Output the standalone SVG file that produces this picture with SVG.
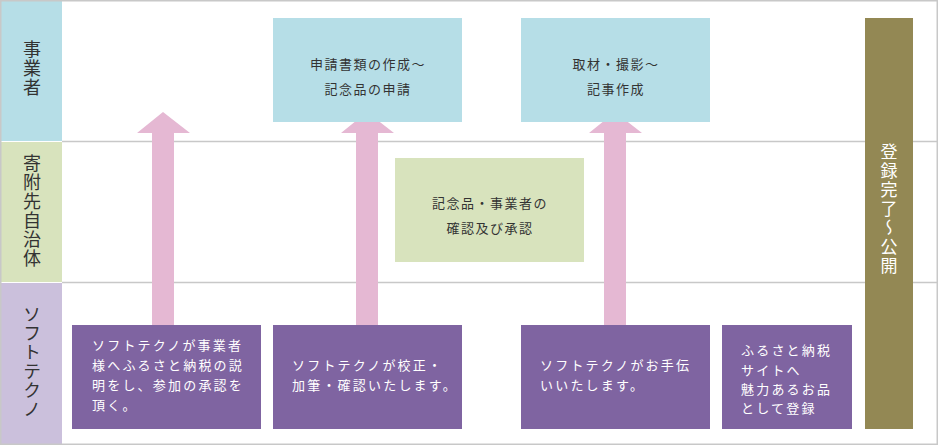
<svg xmlns="http://www.w3.org/2000/svg" width="938" height="445" viewBox="0 0 938 445">
<style>
text{font-family:"Noto Sans CJK JP","Noto Sans",sans-serif;}
.lane{font-size:18px;fill:#333;text-anchor:middle;writing-mode:vertical-rl;letter-spacing:1px;}
.dk{font-size:13px;fill:#333;text-anchor:middle;letter-spacing:1.5px;}
.wt{font-size:13px;fill:#fff;letter-spacing:2.2px;}
.vt{font-size:17px;fill:#fff;text-anchor:middle;writing-mode:vertical-rl;letter-spacing:2px;}
.blue{fill:#b6dee7;}
.green{fill:#d8e3bd;}
.purple{fill:#7f64a1;}
.arrow{fill:#e5b8d3;}
.rule{stroke:#c8c8c8;stroke-width:1.5;}
</style>
<rect x="0" y="0" width="938" height="445" fill="#fff"/>
<g id="lanes">
<rect x="1" y="1" width="61" height="140" class="blue"/>
<rect x="1" y="142" width="61" height="140" class="green"/>
<rect x="1" y="283" width="61" height="161" fill="#cbc0dc"/>
<line x1="62" y1="141.5" x2="937" y2="141.5" class="rule"/>
<line x1="62" y1="282.5" x2="937" y2="282.5" class="rule"/>
<rect x="0.75" y="0.75" width="936.5" height="443.5" fill="none" class="rule"/>
<text id="lane-jigyosha" class="lane" x="32" y="68.5">事業者</text>
<text id="lane-jichitai" class="lane" x="32" y="211.5">寄附先自治体</text>
<text id="lane-softechno" class="lane" x="32" y="362.5">ソフトテクノ</text>
</g>
<g id="connectors">
<polygon class="arrow" points="152,325 152,133 137,133 163,112 190,133 174,133 174,325"/>
<polygon class="arrow" points="356,325 356,133 341,133 367,112 394,133 378,133 378,325"/>
<polygon class="arrow" points="604,325 604,133 589,133 615,112 642,133 626,133 626,325"/>
</g>
<g id="node-shinsei">
<rect x="273" y="18" width="189" height="104" class="blue"/>
<text class="dk" x="368" y="69">申請書類の作成～</text>
<text class="dk" x="368" y="94">記念品の申請</text>
</g>
<g id="node-shuzai">
<rect x="521" y="18" width="189" height="104" class="blue"/>
<text class="dk" x="616" y="69">取材・撮影～</text>
<text class="dk" x="616" y="94">記事作成</text>
</g>
<g id="node-kakunin">
<rect x="395" y="158" width="189" height="104" class="green"/>
<text class="dk" x="490" y="208">記念品・事業者の</text>
<text class="dk" x="490" y="233">確認及び承認</text>
</g>
<g id="node-setsumei">
<rect x="72" y="325" width="189" height="104" class="purple"/>
<text class="wt" x="92" y="350">ソフトテクノが事業者</text>
<text class="wt" x="92" y="370">様へふるさと納税の説</text>
<text class="wt" x="92" y="390">明をし、参加の承認を</text>
<text class="wt" x="92" y="410">頂く。</text>
</g>
<g id="node-kosei">
<rect x="273" y="325" width="189" height="104" class="purple"/>
<text class="wt" x="292" y="370">ソフトテクノが校正・</text>
<text class="wt" x="292" y="390">加筆・確認いたします。</text>
</g>
<g id="node-otetsudai">
<rect x="521" y="325" width="189" height="104" class="purple"/>
<text class="wt" x="540" y="370">ソフトテクノがお手伝</text>
<text class="wt" x="540" y="390">いいたします。</text>
</g>
<g id="node-toroku">
<rect x="722" y="325" width="130" height="104" class="purple"/>
<text class="wt" x="741" y="355">ふるさと納税</text>
<text class="wt" x="741" y="375">サイトへ</text>
<text class="wt" x="741" y="394">魅力あるお品</text>
<text class="wt" x="741" y="413">として登録</text>
</g>
<g id="node-kokai">
<rect x="865" y="18" width="48" height="411" fill="#938854"/>
<text class="vt" x="889" y="210">登録完了～公開</text>
</g>
</svg>
